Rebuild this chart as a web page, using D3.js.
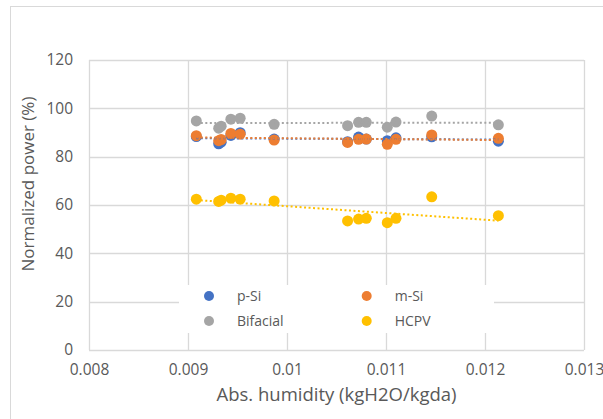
<!DOCTYPE html>
<html><head><meta charset="utf-8">
<script src="https://cdn.jsdelivr.net/npm/d3@7"></script>
<style>body{margin:0;background:#fff;} text{font-family:"Open Sans",sans-serif;fill:#595959;}</style>
</head><body>
<svg id="c" width="603" height="419"></svg>
<script>
const humidity = [0.009084, 0.00931, 0.009335, 0.009433, 0.009527, 0.00987, 0.010612, 0.010723, 0.010801, 0.011013, 0.011101, 0.011462, 0.012135];
const pSi      = [88.3, 85.3, 86.0, 88.8, 89.9, 87.3, 86.2, 88.1, 87.3, 86.6, 87.8, 88.2, 86.4];
const mSi      = [88.7, 86.6, 87.1, 89.6, 89.3, 86.9, 85.9, 87.2, 87.3, 85.1, 87.2, 89.0, 87.6];
const bifacial = [94.8, 91.8, 92.6, 95.5, 95.9, 93.4, 92.8, 94.2, 94.2, 92.2, 94.3, 96.8, 93.2];
const hcpv     = [62.4, 61.5, 62.0, 62.8, 62.4, 61.7, 53.4, 54.2, 54.5, 52.7, 54.5, 63.4, 55.6];
const xTicks = [0.008, 0.009, 0.01, 0.011, 0.012, 0.013];
const xTickLabels = ["0.008", "0.009", "0.01", "0.011", "0.012", "0.013"];
const yTicks = [0, 20, 40, 60, 80, 100, 120];
const seriesNames = ["p-Si", "m-Si", "Bifacial", "HCPV"];
const seriesColors = ["#4472C4", "#ED7D31", "#A5A5A5", "#FFC000"];
const seriesValues = [pSi, mSi, bifacial, hcpv];

const svg = d3.select("#c");
const L = 89, R = 584, T = 60, B = 350;
const x = d3.scaleLinear().domain([0.008, 0.013]).range([L, R]);
const y = d3.scaleLinear().domain([0, 120]).range([B, T]);
const grid = "#d9d9d9";

// outer chart border
svg.append("rect").attr("x", 10.5).attr("y", 6.5).attr("width", 640).attr("height", 440)
  .attr("fill", "none").attr("stroke", grid).attr("stroke-width", 1);

// gridlines
svg.append("g").selectAll("line").data(yTicks).join("line")
  .attr("x1", L).attr("x2", R).attr("y1", d => Math.round(y(d)) + 0.5).attr("y2", d => Math.round(y(d)) + 0.5)
  .attr("stroke", grid).attr("stroke-width", 1.3);
svg.append("g").selectAll("line").data(xTicks).join("line")
  .attr("y1", T).attr("y2", B).attr("x1", d => Math.round(x(d)) + 0.5).attr("x2", d => Math.round(x(d)) + 0.5)
  .attr("stroke", grid).attr("stroke-width", 1.3);

// axes labels
const yAxis = d3.axisLeft(y).tickValues(yTicks).tickSize(0).tickPadding(16);
const gy = svg.append("g").attr("transform", `translate(${L},0)`).call(yAxis);
gy.select(".domain").remove();
gy.selectAll("text").attr("font-size", 15.5).attr("fill", "#595959").attr("font-family", "Open Sans");

const xAxis = d3.axisBottom(x).tickValues(xTicks).tickFormat((d, i) => xTickLabels[i]).tickSize(0).tickPadding(14);
const gx = svg.append("g").attr("transform", `translate(0,${B})`).call(xAxis);
gx.select(".domain").remove();
gx.selectAll("text").attr("font-size", 15.5).attr("fill", "#595959").attr("font-family", "Open Sans");

// axis titles
svg.append("text").attr("x", (L + R) / 2).attr("y", 401).attr("text-anchor", "middle")
  .attr("font-size", 18.5).text("Abs. humidity (kgH2O/kgda)");
svg.append("text").attr("transform", "translate(34,184) rotate(-90)").attr("text-anchor", "middle")
  .attr("font-size", 17).text("Normalized power (%)");

// trendlines
function fit(xs, ys) {
  const mx = d3.mean(xs), my = d3.mean(ys);
  let num = 0, den = 0;
  xs.forEach((v, i) => { num += (v - mx) * (ys[i] - my); den += (v - mx) * (v - mx); });
  const b = num / den, a = my - b * mx;
  return v => a + b * v;
}
const x0 = d3.min(humidity), x1 = d3.max(humidity);

// markers
seriesValues.forEach((vals, si) => {
  svg.append("g").selectAll("circle").data(humidity).join("circle")
    .attr("cx", d => x(d)).attr("cy", (d, i) => y(vals[i])).attr("r", 5.5)
    .attr("fill", seriesColors[si]);
});
seriesValues.forEach((vals, si) => {
  const f = fit(humidity, vals);
  svg.append("line").attr("x1", x(x0)).attr("x2", x(x1)).attr("y1", y(f(x0))).attr("y2", y(f(x1)))
    .attr("stroke", seriesColors[si]).attr("stroke-width", 2).attr("stroke-dasharray", "2,2.5");
});

// legend
svg.append("rect").attr("x", 179).attr("y", 285).attr("width", 315).attr("height", 48).attr("fill", "#fff");
const legPos = [[209, 296], [366.7, 296], [209, 321], [366.7, 321]];
seriesNames.forEach((n, i) => {
  svg.append("circle").attr("cx", legPos[i][0]).attr("cy", legPos[i][1]).attr("r", 5).attr("fill", seriesColors[i]);
  svg.append("text").attr("x", legPos[i][0] + 28).attr("y", legPos[i][1]).attr("dy", "0.35em")
    .attr("font-size", 14).text(n);
});
</script>
</body></html>
